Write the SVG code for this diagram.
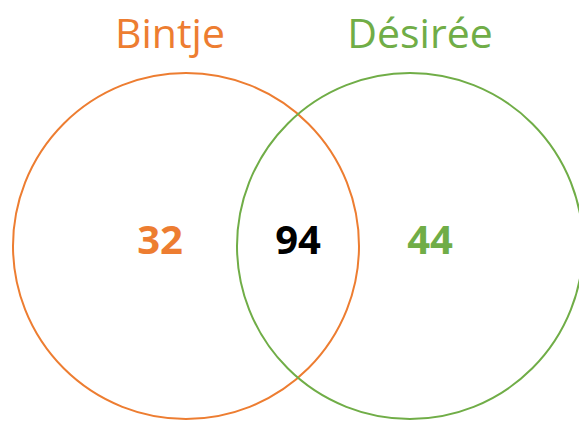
<svg xmlns="http://www.w3.org/2000/svg" width="579" height="422" viewBox="0 0 579 422">
<style>
.ring{fill:none;stroke-width:2}
.lbl{font-family:"Open Sans","Liberation Sans",sans-serif;font-size:41px;text-anchor:middle}
.num{font-family:"Open Sans","Liberation Sans",sans-serif;font-size:40px;font-weight:bold;text-anchor:middle}
</style>
<rect width="579" height="422" fill="#fff"/>
<g id="bintje">
<circle class="ring" cx="186" cy="246" r="173" stroke="#ED7D31"/>
<text class="lbl" x="170" y="48" fill="#ED7D31">Bintje</text>
<text class="num" x="160" y="254" fill="#ED7D31">32</text>
</g>
<g id="desiree">
<circle class="ring" cx="410" cy="246" r="173" stroke="#70AD47"/>
<text class="lbl" x="420" y="48" fill="#70AD47">Désirée</text>
<text class="num" x="430" y="254" fill="#70AD47">44</text>
</g>
<g id="overlap">
<text class="num" x="298" y="254" fill="#000">94</text>
</g>
</svg>
